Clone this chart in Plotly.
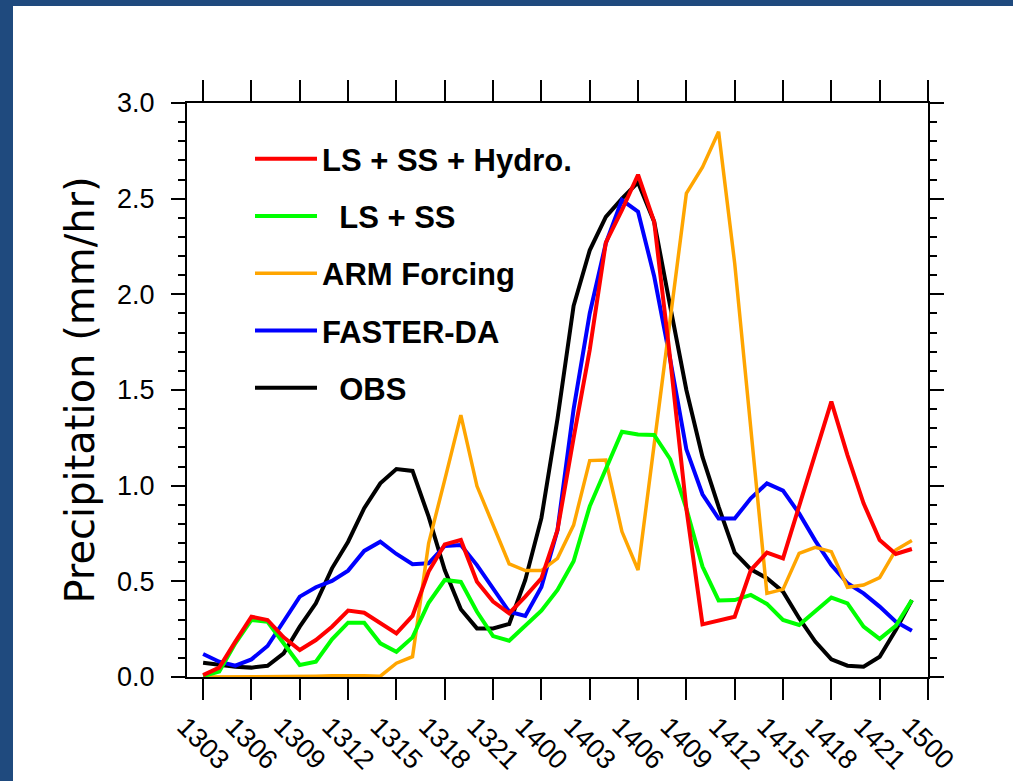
import plotly.graph_objects as go

# hour index since 13/00 (1303 -> 3, 1500 -> 48)
hours = list(range(3, 48))
tick_hours = [3, 6, 9, 12, 15, 18, 21, 24, 27, 30, 33, 36, 39, 42, 45, 48]
tick_labels = ["1303", "1306", "1309", "1312", "1315", "1318", "1321", "1400",
               "1403", "1406", "1409", "1412", "1415", "1418", "1421", "1500"]

obs = [0.075, 0.063, 0.054, 0.049, 0.059, 0.124, 0.263, 0.385, 0.568, 0.707,
       0.882, 1.012, 1.087, 1.077, 0.838, 0.559, 0.354, 0.254, 0.254, 0.277,
       0.507, 0.83, 1.35, 1.94, 2.23, 2.405, 2.50, 2.585, 2.38, 1.936,
       1.50, 1.15, 0.89, 0.650, 0.563, 0.516, 0.446, 0.307, 0.185, 0.092,
       0.059, 0.054, 0.106, 0.246, 0.402]

faster_da = [0.120, 0.080, 0.059, 0.092, 0.162, 0.289, 0.420, 0.469, 0.502, 0.556,
             0.659, 0.707, 0.643, 0.589, 0.594, 0.685, 0.690, 0.585, 0.463, 0.341,
             0.319, 0.47, 0.768, 1.40, 1.90, 2.267, 2.493, 2.432, 2.095, 1.657,
             1.19, 0.955, 0.828, 0.828, 0.934, 1.012, 0.974, 0.855, 0.713, 0.585,
             0.490, 0.437, 0.368, 0.289, 0.242]

ls_ss_hydro = [0.010, 0.049, 0.185, 0.315, 0.298, 0.207, 0.141, 0.193, 0.263, 0.347,
               0.336, 0.281, 0.228, 0.319, 0.551, 0.693, 0.716, 0.498, 0.394, 0.333,
               0.420, 0.516, 0.768, 1.25, 1.71, 2.27, 2.44, 2.625, 2.38, 1.66,
               0.88, 0.275, 0.294, 0.315, 0.559, 0.650, 0.620, 0.893, 1.166, 1.439,
               1.160, 0.908, 0.716, 0.643, 0.669]

ls_ss = [0.005, 0.028, 0.176, 0.298, 0.289, 0.176, 0.063, 0.080, 0.197, 0.284,
         0.284, 0.176, 0.132, 0.207, 0.388, 0.507, 0.497, 0.341, 0.214, 0.190,
         0.267, 0.347, 0.455, 0.605, 0.892, 1.09, 1.282, 1.267, 1.265, 1.138,
         0.88, 0.577, 0.400, 0.402, 0.429, 0.382, 0.298, 0.272, 0.341, 0.415,
         0.385, 0.263, 0.199, 0.267, 0.402]

arm_forcing = [0.0, 0.0, 0.0, 0.0, 0.003, 0.003, 0.004, 0.004, 0.006, 0.008,
               0.007, 0.004, 0.072, 0.106, 0.699, 1.030, 1.369, 0.998, 0.79, 0.591,
               0.556, 0.556, 0.620, 0.794, 1.131, 1.134, 0.760, 0.559, 1.215, 1.871,
               2.528, 2.664, 2.850, 2.162, 1.32, 0.437, 0.458, 0.646, 0.678, 0.655,
               0.469, 0.481, 0.519, 0.664, 0.713]

series = [
    ("\u00a0\u00a0OBS", obs, "#000000", 4, 5),
    ("FASTER-DA", faster_da, "#0000FF", 4, 4),
    ("ARM Forcing", arm_forcing, "#FFA500", 3.5, 3),
    ("\u00a0\u00a0LS + SS", ls_ss, "#00FF00", 4, 2),
    ("LS + SS + Hydro.", ls_ss_hydro, "#FF0000", 4, 1),
]

fig = go.Figure()
for name, vals, color, w, rank in series:
    fig.add_trace(go.Scatter(
        x=hours, y=vals, mode="lines", name=name,
        line=dict(color=color, width=w), legendgroup=name, legendrank=rank,
    ))

W, H = 1013, 781
L, R, T, B = 187, 85, 103, 104
pw, ph = W - L - R, H - T - B
band = "#1F4A7E"

fig.update_layout(
    template="none",
    width=W, height=H,
    margin=dict(l=L, r=R, t=T, b=B, autoexpand=False),
    paper_bgcolor="white", plot_bgcolor="white",
    font=dict(family="Liberation Sans, Arial, sans-serif", color="black"),
    showlegend=True,
    legend=dict(
        x=(250 - L) / pw, y=1 - (132 - T) / ph, xanchor="left", yanchor="top",
        bgcolor="rgba(0,0,0,0)", font=dict(size=31, weight="bold"),
        traceorder="grouped", tracegroupgap=14, itemwidth=62,
    ),
    shapes=[
        dict(type="rect", xref="paper", yref="paper", layer="below",
             x0=-L / pw, x1=(13 - L) / pw, y0=-B / ph, y1=1 + T / ph,
             fillcolor=band, line=dict(width=0)),
        dict(type="rect", xref="paper", yref="paper", layer="below",
             x0=-L / pw, x1=1 + R / pw, y0=1 + (T - 6) / ph, y1=1 + T / ph,
             fillcolor=band, line=dict(width=0)),
    ],
)

fig.update_xaxes(
    range=[2, 48], tickmode="array", tickvals=tick_hours, ticktext=tick_labels,
    tickangle=45, tickfont=dict(size=27), automargin=False,
    ticks="outside", ticklen=21, tickwidth=1.5, tickcolor="black",
    showline=True, linewidth=2, linecolor="black", mirror="ticks",
    showgrid=False, zeroline=False, ticklabelshift=-18,
)
fig.update_yaxes(
    range=[0, 3], dtick=0.5, tick0=0, tickformat=".1f", tickfont=dict(size=27),
    ticks="outside", ticklen=14, tickwidth=2, tickcolor="black", automargin=False,
    minor=dict(dtick=0.1, ticks="outside", ticklen=7, tickwidth=1.5, tickcolor="black"),
    showline=True, linewidth=2, linecolor="black", mirror="ticks",
    showgrid=False, zeroline=False, ticklabelstandoff=11,
    title=dict(text="Precipitation (mm/hr)",
               font=dict(size=40, family="DejaVu Sans, sans-serif"), standoff=10),
)

fig.write_html("out.html")
